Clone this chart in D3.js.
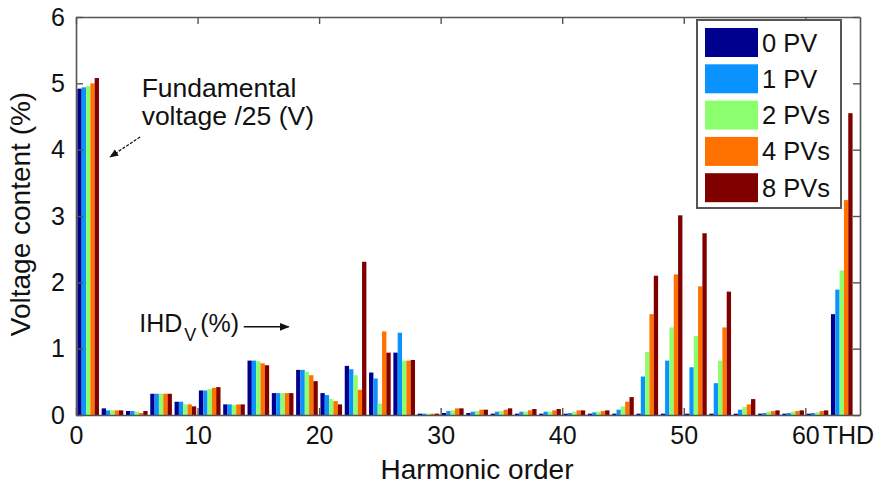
<!DOCTYPE html>
<html>
<head>
<meta charset="utf-8">
<script src="https://cdn.jsdelivr.net/npm/d3@7"></script>
<style>
  html, body { margin: 0; padding: 0; background: #fff; }
  svg { display: block; font-family: "Liberation Sans", Arial, sans-serif; }
</style>
</head>
<body>
<svg id="chart" width="876" height="488"></svg>
<script>
// ---- data ----
const orders = [1,3,5,7,9,11,13,15,17,19,21,23,25,27,29,31,33,35,37,39,41,43,45,47,49,51,53,55,57,59,61,63]; // 63 = THD
const seriesNames = ["0 PV", "1 PV", "2 PVs", "4 PVs", "8 PVs"];
const pv0 = [4.92,0.10,0.06,0.32,0.20,0.37,0.16,0.82,0.33,0.68,0.33,0.74,0.64,0.94,0.02,0.03,0.03,0.02,0.02,0.02,0.02,0.02,0.02,0.02,0.02,0.02,0.02,0.02,0.02,0.02,0.02,1.52];
const pv1 = [4.94,0.07,0.06,0.32,0.20,0.37,0.16,0.82,0.33,0.68,0.30,0.69,0.55,1.24,0.02,0.06,0.05,0.05,0.05,0.05,0.03,0.04,0.08,0.58,0.82,0.72,0.48,0.08,0.03,0.03,0.03,1.89];
const pv2 = [4.96,0.07,0.05,0.32,0.16,0.39,0.15,0.81,0.33,0.65,0.24,0.60,0.17,0.82,0.02,0.07,0.06,0.06,0.05,0.05,0.05,0.05,0.13,0.95,1.32,1.19,0.82,0.12,0.05,0.05,0.04,2.18];
const pv4 = [5.00,0.07,0.03,0.32,0.16,0.41,0.16,0.78,0.33,0.60,0.21,0.38,1.26,0.82,0.02,0.10,0.08,0.08,0.07,0.07,0.07,0.06,0.20,1.52,2.12,1.94,1.32,0.16,0.06,0.06,0.06,3.24];
const pv8 = [5.08,0.07,0.06,0.32,0.13,0.42,0.16,0.75,0.33,0.51,0.16,2.31,0.94,0.83,0.02,0.10,0.08,0.10,0.09,0.09,0.07,0.07,0.27,2.10,3.01,2.74,1.86,0.24,0.07,0.07,0.07,4.55];
const xTicks = [0,10,20,30,40,50,60,63.5];
const xTickLabels = ["0","10","20","30","40","50","60","THD"];
const yTicks = [0,1,2,3,4,5,6];
const colors = ["#00008F", "#0A93FF", "#8CFF6E", "#FF7200", "#800000"];

const series = [pv0, pv1, pv2, pv4, pv8];

// ---- layout ----
const svg = d3.select("#chart");
const L = 76, R = 860, T = 17, B = 415;
const x = d3.scaleLinear().domain([0, 64.5]).range([L, R]);
const y = d3.scaleLinear().domain([0, 6]).range([B, T]);
const axisColor = "#555";
const fs = 25;

// bars
const groupW = 1.78;
const bw = groupW / series.length;
series.forEach((vals, si) => {
  svg.append("g").selectAll("rect").data(vals).join("rect")
    .attr("x", (d, i) => x(orders[i] - groupW / 2 + si * bw))
    .attr("width", x(bw) - x(0))
    .attr("y", d => y(d))
    .attr("height", d => y(0) - y(d))
    .attr("fill", colors[si]);
});

// axes
function styleAxis(g) {
  g.select(".domain").attr("stroke", axisColor).attr("stroke-width", 1.6);
  g.selectAll(".tick line").attr("stroke", axisColor).attr("stroke-width", 1.4);
  g.selectAll("text").attr("font-size", fs).attr("fill", "#111").attr("font-family", "Liberation Sans, Arial, sans-serif");
}
const xb = svg.append("g").attr("transform", `translate(0,${B})`)
  .call(d3.axisBottom(x).tickValues(xTicks).tickSizeInner(-7).tickSizeOuter(0).tickPadding(11)
    .tickFormat((d, i) => xTickLabels[i]));
styleAxis(xb);
xb.selectAll(".tick").filter(d => d === 63.5).select("line").remove();

const xt = svg.append("g").attr("transform", `translate(0,${T})`)
  .call(d3.axisTop(x).tickValues(xTicks.slice(0, 7)).tickSizeInner(-7).tickSizeOuter(0).tickFormat(""));
styleAxis(xt);

const yl = svg.append("g").attr("transform", `translate(${L},0)`)
  .call(d3.axisLeft(y).tickValues(yTicks).tickSizeInner(-7).tickSizeOuter(0).tickPadding(11).tickFormat(d3.format("d")));
styleAxis(yl);

const yr = svg.append("g").attr("transform", `translate(${R},0)`)
  .call(d3.axisRight(y).tickValues(yTicks).tickSizeInner(-7).tickSizeOuter(0).tickFormat(""));
styleAxis(yr);

// axis labels
svg.append("text").attr("x", 477).attr("y", 479).attr("text-anchor", "middle")
  .attr("font-size", 28).attr("fill", "#111").text("Harmonic order");
svg.append("text").attr("transform", `translate(30,${(T + B) / 2 - 2}) rotate(-90)`).attr("text-anchor", "middle")
  .attr("font-size", 28).attr("fill", "#111").text("Voltage content (%)");

// annotations
const defs = svg.append("defs");
defs.append("marker").attr("id", "ah").attr("viewBox", "0 0 10 10").attr("refX", 9).attr("refY", 5)
  .attr("markerWidth", 7).attr("markerHeight", 7).attr("orient", "auto-start-reverse")
  .append("path").attr("d", "M0,1 L10,5 L0,9 Z").attr("fill", "#111");

svg.append("text").attr("x", x(5.4)).attr("y", y(4.8)).attr("font-size", 26.5).attr("fill", "#111").text("Fundamental");
svg.append("text").attr("x", x(5.4)).attr("y", y(4.37)).attr("font-size", 26.5).attr("fill", "#111").text("voltage /25 (V)");
svg.append("line").attr("x1", x(5.27)).attr("y1", y(4.19)).attr("x2", x(2.8)).attr("y2", y(3.89))
  .attr("stroke", "#111").attr("stroke-width", 1.3).attr("stroke-dasharray", "3,1.5").attr("marker-end", "url(#ah)");

const ihd = svg.append("text").attr("x", x(5.2)).attr("y", y(1.25)).attr("font-size", 25).attr("fill", "#111");
ihd.append("tspan").text("IHD");
ihd.append("tspan").attr("font-size", 18).attr("dx", 2).attr("dy", 9).text("V");
ihd.append("tspan").attr("dx", 4).attr("dy", -9).text("(%)");
svg.append("line").attr("x1", x(13.8)).attr("y1", y(1.33)).attr("x2", x(17.5)).attr("y2", y(1.33))
  .attr("stroke", "#111").attr("stroke-width", 1.4).attr("marker-end", "url(#ah)");

// legend
const lg = svg.append("g").attr("transform", "translate(697,20)");
lg.append("rect").attr("width", 144).attr("height", 188).attr("fill", "#fff")
  .attr("stroke", axisColor).attr("stroke-width", 2);
seriesNames.forEach((name, i) => {
  const row = lg.append("g").attr("transform", `translate(8,${8 + i * 36.3})`);
  row.append("rect").attr("width", 53).attr("height", 29).attr("fill", colors[i]);
  row.append("text").attr("x", 57).attr("y", 23.5).attr("font-size", 25.5).attr("fill", "#111").text(name);
});
</script>
</body>
</html>
